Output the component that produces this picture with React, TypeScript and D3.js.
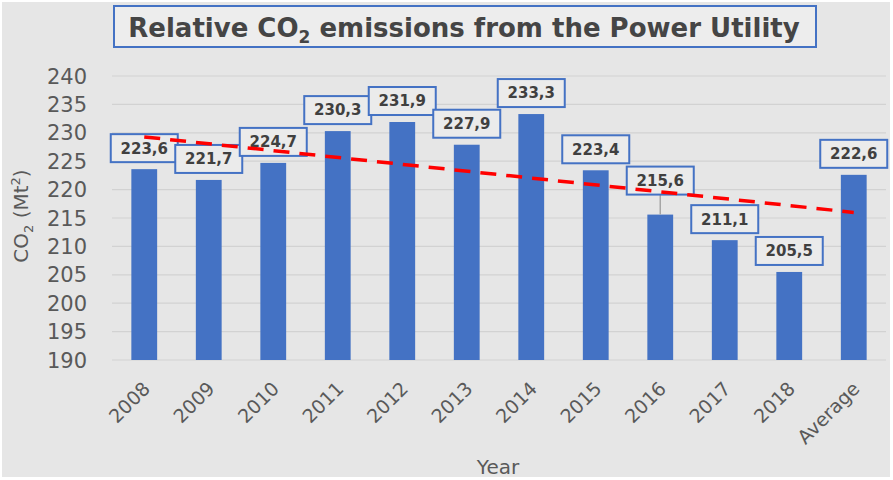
import * as d3 from 'd3'

const categories = ['2008', '2009', '2010', '2011', '2012', '2013', '2014', '2015', '2016', '2017', '2018', 'Average']
const emissions = [223.6, 221.7, 224.7, 230.3, 231.9, 227.9, 233.3, 223.4, 215.6, 211.1, 205.5, 222.6]
const yTicks = [190, 195, 200, 205, 210, 215, 220, 225, 230, 235, 240]

const W = 893
const H = 480
const BLUE = '#4472c4'
const FONT = '"DejaVu Sans", sans-serif'

// least-squares trend over all twelve values (as in the spreadsheet)
function trend(values: number[]): [number, number] {
  const n = values.length
  const xs = d3.range(1, n + 1)
  const mx = d3.mean(xs)!
  const my = d3.mean(values)!
  const sxy = d3.sum(xs, (x, i) => (x - mx) * (values[i] - my))
  const sxx = d3.sum(xs, x => (x - mx) ** 2)
  const slope = sxy / sxx
  return [my + slope * (1 - mx), my + slope * (n - mx)]
}

export default function App() {
  const x = d3.scaleBand<string>()
    .domain(categories)
    .range([112, 886])
    .paddingInner(0.6)
    .paddingOuter(0.3)
  const y = d3.scaleLinear().domain([190, 240]).range([360, 76])
  const bw = x.bandwidth()
  const cx = (c: string) => x(c)! + bw / 2

  const [t0, t1] = trend(emissions)
  const trendLine = d3.line<[number, number]>()([
    [cx(categories[0]), y(t0)],
    [cx(categories[categories.length - 1]), y(t1)],
  ])

  const boxW = 67
  const boxH = 28
  const fmt = (v: number) => v.toFixed(1).replace('.', ',')

  return (
    <svg width={W} height={H} style={{ position: 'absolute', left: 0, top: 0 }} fontFamily={FONT}>
      <rect x={0} y={0} width={W} height={H} fill="#ffffff" />
      <rect x={2} y={2} width={W - 5} height={H - 5} fill="#e6e6e6" />

      {/* title */}
      <rect x={114} y={6} width={702} height={41} fill="#ededed" stroke={BLUE} strokeWidth={2} />
      <text x={464} y={37} textAnchor="middle" fontSize={26} fontWeight="bold" fill="#454545">
        Relative CO<tspan fontSize={17} dy={6}>2</tspan><tspan dy={-6}> emissions from the Power Utility</tspan>
      </text>

      {/* grid + y ticks */}
      {yTicks.map(t => (
        <g key={t}>
          <line x1={112} x2={886} y1={y(t)} y2={y(t)} stroke="#d2d2d2" strokeWidth={1.2} />
          <text x={87} y={y(t)} dy="0.36em" textAnchor="end" fontSize={21} fill="#595959">{t}</text>
        </g>
      ))}

      {/* bars */}
      {categories.map((c, i) => (
        <rect key={c} x={x(c)} y={y(emissions[i])} width={bw} height={y(190) - y(emissions[i])} fill={BLUE} />
      ))}

      {/* x tick labels */}
      {categories.map(c => (
        <text key={c} transform={`translate(${cx(c) + 7},${390}) rotate(-45)`} textAnchor="end" fontSize={19} fill="#595959">{c}</text>
      ))}

      {/* data labels */}
      {categories.map((c, i) => {
        const top = y(emissions[i])
        const lift = c === '2016' ? 20 : 7
        const by = top - lift - boxH
        return (
          <g key={c}>
            {lift > 7 && <line x1={cx(c)} x2={cx(c)} y1={top} y2={by + boxH} stroke="#a6a6a6" strokeWidth={1.5} />}
            <rect x={cx(c) - boxW / 2} y={by} width={boxW} height={boxH} fill="#ebebeb" stroke={BLUE} strokeWidth={2} />
            <text x={cx(c)} y={by + boxH / 2} dy="0.36em" textAnchor="middle" fontSize={15} fontWeight="bold" fill="#404040">{fmt(emissions[i])}</text>
          </g>
        )
      })}

      {/* trend line */}
      <path d={trendLine!} stroke="#ff0000" strokeWidth={3.5} strokeDasharray="16 10" fill="none" />

      {/* axis titles */}
      <text transform="translate(28,216) rotate(-90)" textAnchor="middle" fontSize={20} fill="#595959">
        CO<tspan fontSize={13} dy={5}>2</tspan><tspan dy={-5}> (Mt</tspan><tspan fontSize={13} dy={-8}>2</tspan><tspan dy={8}>)</tspan>
      </text>
      <text x={498} y={474} textAnchor="middle" fontSize={20} fill="#595959">Year</text>
    </svg>
  )
}
